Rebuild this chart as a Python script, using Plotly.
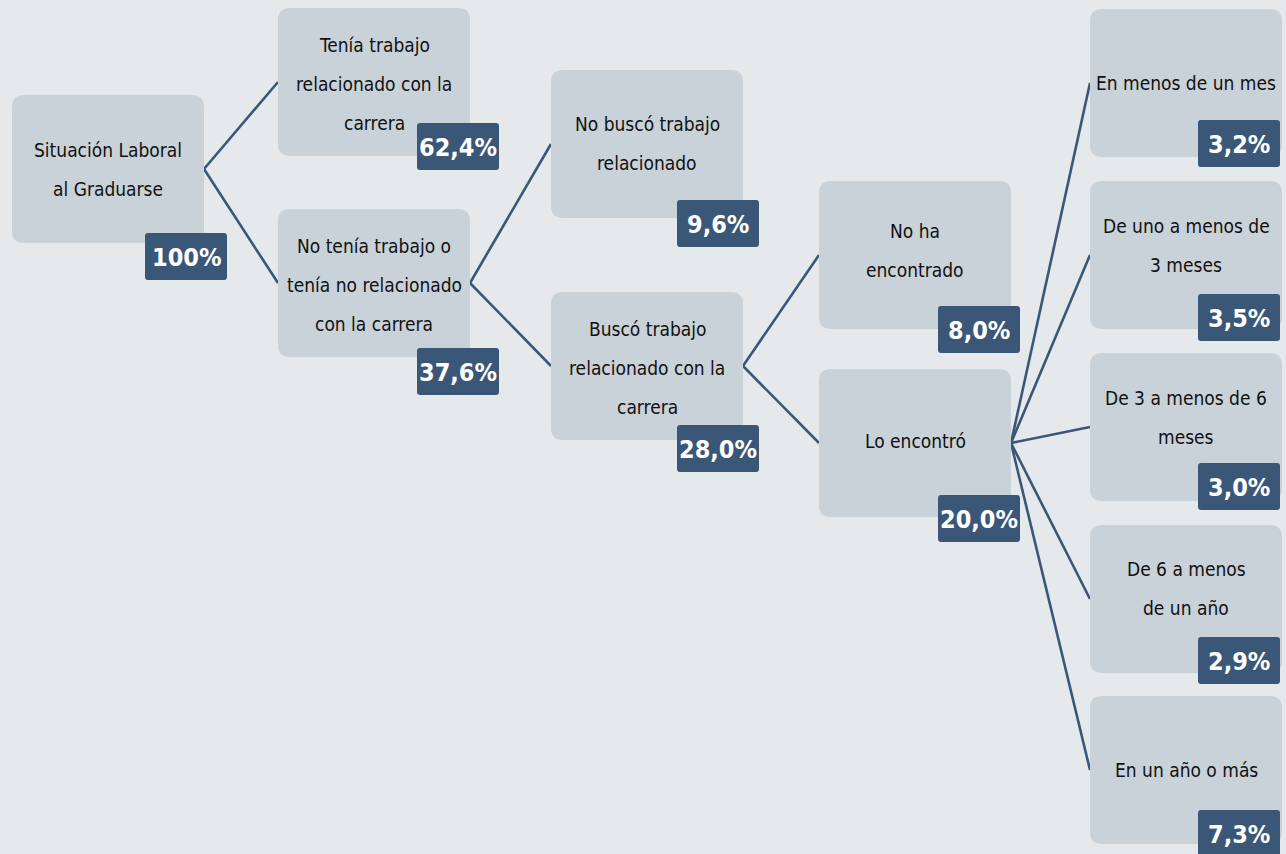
import plotly.graph_objects as go

# ---------------- data ----------------
node_labels = [
    "Situación Laboral<br>al Graduarse",
    "Tenía trabajo<br>relacionado con la<br>carrera",
    "No tenía trabajo o<br>tenía no relacionado<br>con la carrera",
    "No buscó trabajo<br>relacionado",
    "Buscó trabajo<br>relacionado con la<br>carrera",
    "No ha<br>encontrado",
    "Lo encontró",
    "En menos de un mes",
    "De uno a menos de<br>3 meses",
    "De 3 a menos de 6<br>meses",
    "De 6 a menos<br>de un año",
    "En un año o más",
]
node_values = [100, 62.4, 37.6, 9.6, 28.0, 8.0, 20.0, 3.2, 3.5, 3.0, 2.9, 7.3]
node_parents = [None, 0, 0, 2, 2, 4, 4, 6, 6, 6, 6, 6]

# ---------------- layout (pixel geometry) ----------------
W, H = 1286, 854
BOX_W, BOX_H = 192, 148
LBL_W, LBL_H = 82, 47
box_left = [12, 278, 278, 551, 551, 819, 819, 1090, 1090, 1090, 1090, 1090]
box_top = [95, 8, 209, 70, 292, 181, 369, 9, 181, 353, 525, 696]
lbl_left = [145, 417, 417, 677, 677, 938, 938, 1198, 1198, 1198, 1198, 1198]
lbl_top = [233, 123, 348, 200, 425, 306, 495, 120, 294, 463, 637, 810]
text_dy = [0, 2, 2, -1, 2, -5, -2, 0, -10, -10, -11, 0]
LINE_GAP = 39

BG = "#e6e9ec"
BOX_C = "#c9d1d9"
LBL_C = "#3b5777"
LINE_C = "#3b5777"
FONT = "DejaVu Sans Condensed, Liberation Sans Narrow, sans-serif"


def fmt(v):
    if v == 100:
        return "100%"
    return f"{v:.1f}".replace(".", ",") + "%"


def rrect(x0, y0, x1, y1, r):
    return (f"M{x0+r},{y0} L{x1-r},{y0} Q{x1},{y0} {x1},{y0+r} "
            f"L{x1},{y1-r} Q{x1},{y1} {x1-r},{y1} L{x0+r},{y1} "
            f"Q{x0},{y1} {x0},{y1-r} L{x0},{y0+r} Q{x0},{y0} {x0+r},{y0} Z")


fig = go.Figure()

# connector lines
lx, ly = [], []
for i, p in enumerate(node_parents):
    if p is None:
        continue
    lx += [box_left[p] + BOX_W, box_left[i], None]
    ly += [box_top[p] + BOX_H / 2, box_top[i] + BOX_H / 2, None]
fig.add_trace(go.Scatter(x=lx, y=ly, mode="lines",
                         line=dict(color=LINE_C, width=2.6),
                         hoverinfo="skip", showlegend=False))

shapes = []
annotations = []
for i, lab in enumerate(node_labels):
    x0, y0 = box_left[i], box_top[i]
    shapes.append(dict(type="path", path=rrect(x0, y0, x0 + BOX_W, y0 + BOX_H, 12),
                       fillcolor=BOX_C, line=dict(width=0), layer="above"))
    lines = lab.split("<br>")
    cy = y0 + BOX_H / 2 + text_dy[i]
    n = len(lines)
    for k, t in enumerate(lines):
        yy = cy + (k - (n - 1) / 2) * LINE_GAP
        annotations.append(dict(x=x0 + BOX_W / 2, y=yy, xref="x", yref="y",
                                text=t, showarrow=False,
                                font=dict(family=FONT, size=19, color="#111111"),
                                xanchor="center", yanchor="middle"))
    # value label
    a0, b0 = lbl_left[i], lbl_top[i]
    shapes.append(dict(type="path", path=rrect(a0, b0, a0 + LBL_W, b0 + LBL_H, 3),
                       fillcolor=LBL_C, line=dict(width=0), layer="above"))
    annotations.append(dict(x=a0 + LBL_W / 2, y=b0 + LBL_H / 2 + 1, xref="x", yref="y",
                            text=f"<b>{fmt(node_values[i])}</b>", showarrow=False,
                            font=dict(family=FONT, size=25, color="white"),
                            xanchor="center", yanchor="middle"))

fig.update_layout(
    width=W, height=H,
    margin=dict(l=0, r=0, t=0, b=0),
    paper_bgcolor=BG, plot_bgcolor=BG,
    xaxis=dict(range=[0, W], visible=False, fixedrange=True),
    yaxis=dict(range=[H, 0], visible=False, fixedrange=True),
    shapes=shapes, annotations=annotations,
    showlegend=False,
)

fig.write_html("out.html", config={"displayModeBar": False},
               post_script="document.body.style.margin='0';document.body.style.overflow='hidden';")
